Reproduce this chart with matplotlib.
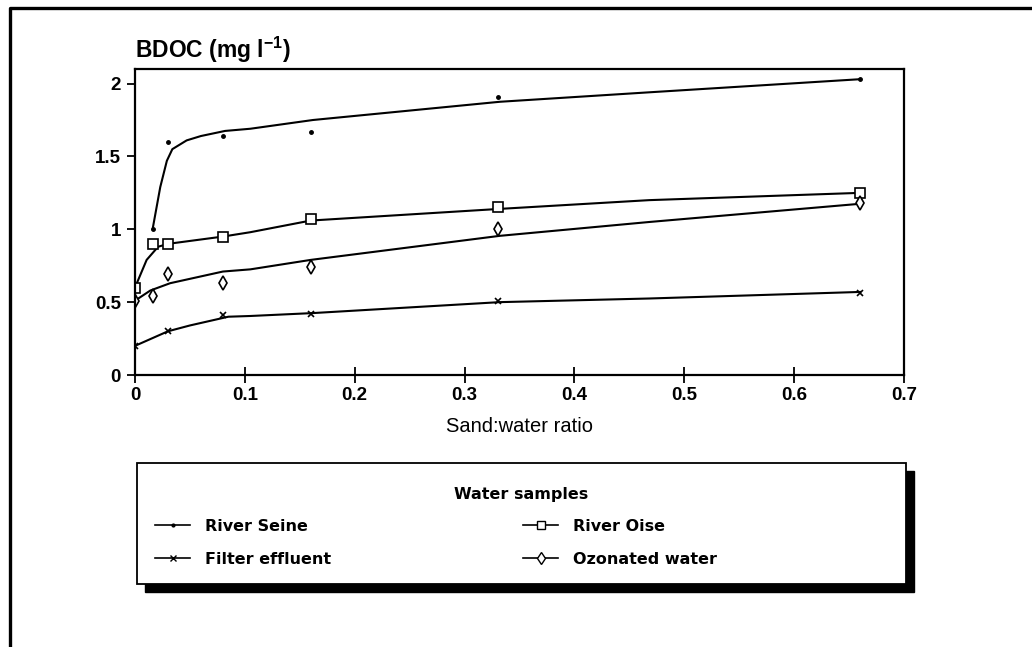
import matplotlib
matplotlib.use("Agg")
import matplotlib.pyplot as plt
from matplotlib.lines import Line2D
from matplotlib.patches import Rectangle

plt.rcParams['font.family'] = ['Liberation Sans', 'DejaVu Sans']
plt.rcParams['mathtext.default'] = 'regular'

# measured points (sand:water ratio vs BDOC)
ratio = [0, 0.016, 0.03, 0.08, 0.16, 0.33, 0.66]
seine_x = [0.016, 0.03, 0.08, 0.16, 0.33, 0.66]
seine = [1.0, 1.60, 1.64, 1.67, 1.91, 2.03]
oise = [0.60, 0.90, 0.90, 0.95, 1.07, 1.15, 1.25]
ozone = [0.51, 0.54, 0.69, 0.63, 0.74, 1.00, 1.18]
filt_x = [0, 0.03, 0.08, 0.16, 0.33, 0.66]
filt = [0.20, 0.30, 0.41, 0.42, 0.51, 0.565]

# fitted curves
seine_cx = [0.016, 0.023, 0.029, 0.034, 0.047, 0.06, 0.082, 0.105, 0.162, 0.332, 0.468, 0.66]
seine_cy = [1.0, 1.29, 1.47, 1.55, 1.61, 1.64, 1.675, 1.69, 1.75, 1.875, 1.94, 2.03]
oise_cx = [0, 0.0106, 0.021, 0.03, 0.08, 0.105, 0.16, 0.332, 0.468, 0.66]
oise_cy = [0.6, 0.79, 0.88, 0.90, 0.95, 0.98, 1.06, 1.14, 1.20, 1.25]
ozone_cx = [0, 0.014, 0.032, 0.08, 0.105, 0.16, 0.332, 0.468, 0.66]
ozone_cy = [0.51, 0.58, 0.63, 0.71, 0.725, 0.79, 0.955, 1.05, 1.175]
filt_cx = [0, 0.03, 0.05, 0.085, 0.105, 0.162, 0.332, 0.468, 0.66]
filt_cy = [0.2, 0.3, 0.34, 0.40, 0.405, 0.425, 0.50, 0.525, 0.57]

W, H = 1032, 647
fig = plt.figure(figsize=(W / 100, H / 100), dpi=100)
ax = fig.add_axes([135 / W, 1 - 375 / H, (904 - 135) / W, (375 - 69) / H])

lw = 1.5
ax.plot(seine_cx, seine_cy, color='k', lw=lw)
ax.plot(oise_cx, oise_cy, color='k', lw=lw)
ax.plot(ozone_cx, ozone_cy, color='k', lw=lw)
ax.plot(filt_cx, filt_cy, color='k', lw=lw)

ax.plot(seine_x, seine, ls='none', marker='o', ms=2.5, color='k')
ax.plot(ratio, oise, ls='none', marker='s', ms=7, mfc='white', mec='k', mew=1.2)
ax.plot(ratio, ozone, ls='none', marker='d', ms=7, mfc='white', mec='k', mew=1.2)
ax.plot(filt_x, filt, ls='none', marker='x', ms=5, color='k', mew=1.2)

ax.set_xlim(0, 0.7)
ax.set_ylim(0, 2.1)
ax.set_xticks([0, 0.1, 0.2, 0.3, 0.4, 0.5, 0.6, 0.7])
ax.set_xticklabels(['0', '0.1', '0.2', '0.3', '0.4', '0.5', '0.6', '0.7'])
ax.set_yticks([0, 0.5, 1, 1.5, 2])
ax.set_yticklabels(['0', '0.5', '1', '1.5', '2'])
for s in ax.spines.values():
    s.set_linewidth(1.6)
ax.tick_params(axis='y', direction='out', length=6, width=1.3, labelsize=13.5, pad=4)
ax.tick_params(axis='x', direction='inout', length=12, width=1.3, labelsize=13.5, pad=3)
for t in ax.get_xticklabels() + ax.get_yticklabels():
    t.set_fontweight('bold')
ax.set_xlabel('Sand:water ratio', fontsize=14.5, labelpad=9)

fig.text(135 / W, 1 - 50 / H, 'BDOC (mg l$^{-1}$)', fontsize=16.5, fontweight='bold',
         ha='left', va='center')

# legend box with heavy drop shadow
bx0, bx1, by0, by1 = 137, 906, 463, 584
sh = 8
fig.patches.append(Rectangle(((bx0 + sh) / W, 1 - (by1 + sh) / H), (bx1 - bx0) / W, (by1 - by0) / H,
                             transform=fig.transFigure, facecolor='k', edgecolor='k', zorder=1))
fig.patches.append(Rectangle((bx0 / W, 1 - by1 / H), (bx1 - bx0) / W, (by1 - by0) / H,
                             transform=fig.transFigure, facecolor='white', edgecolor='k',
                             lw=1.3, zorder=2))
leg_font = {'family': ['DejaVu Sans'], 'size': 11.5, 'weight': 'bold'}
fig.text((bx0 + bx1) / 2 / W, 1 - 494 / H, 'Water samples', fontdict=leg_font,
         ha='center', va='center', zorder=3)

h_seine = Line2D([], [], color='k', lw=1.2, marker='o', ms=2)
h_filt = Line2D([], [], color='k', lw=1.2, marker='x', ms=5)
h_oise = Line2D([], [], color='k', lw=1.2, marker='s', ms=6, mfc='white')
h_ozone = Line2D([], [], color='k', lw=1.2, marker='d', ms=6, mfc='white')

leg_kw = dict(frameon=False, loc='upper left', borderpad=0, borderaxespad=0,
              prop=leg_font, handlelength=2.2, handletextpad=0.95, labelspacing=1.1)
leg1 = fig.legend([h_seine, h_filt], ['River Seine', 'Filter effluent'],
                  bbox_to_anchor=(155 / W, 1 - 519 / H), **leg_kw)
leg2 = fig.legend([h_oise, h_ozone], ['River Oise', 'Ozonated water'],
                  bbox_to_anchor=(523 / W, 1 - 519 / H), **leg_kw)
leg1.set_zorder(3)
leg2.set_zorder(3)

# outer frame (top and left edges only)
fig.add_artist(Line2D([10 / W, 10 / W, 1], [0, 1 - 8 / H, 1 - 8 / H], transform=fig.transFigure,
                      color='k', lw=2.4))

fig.savefig('out.png', dpi=100)
